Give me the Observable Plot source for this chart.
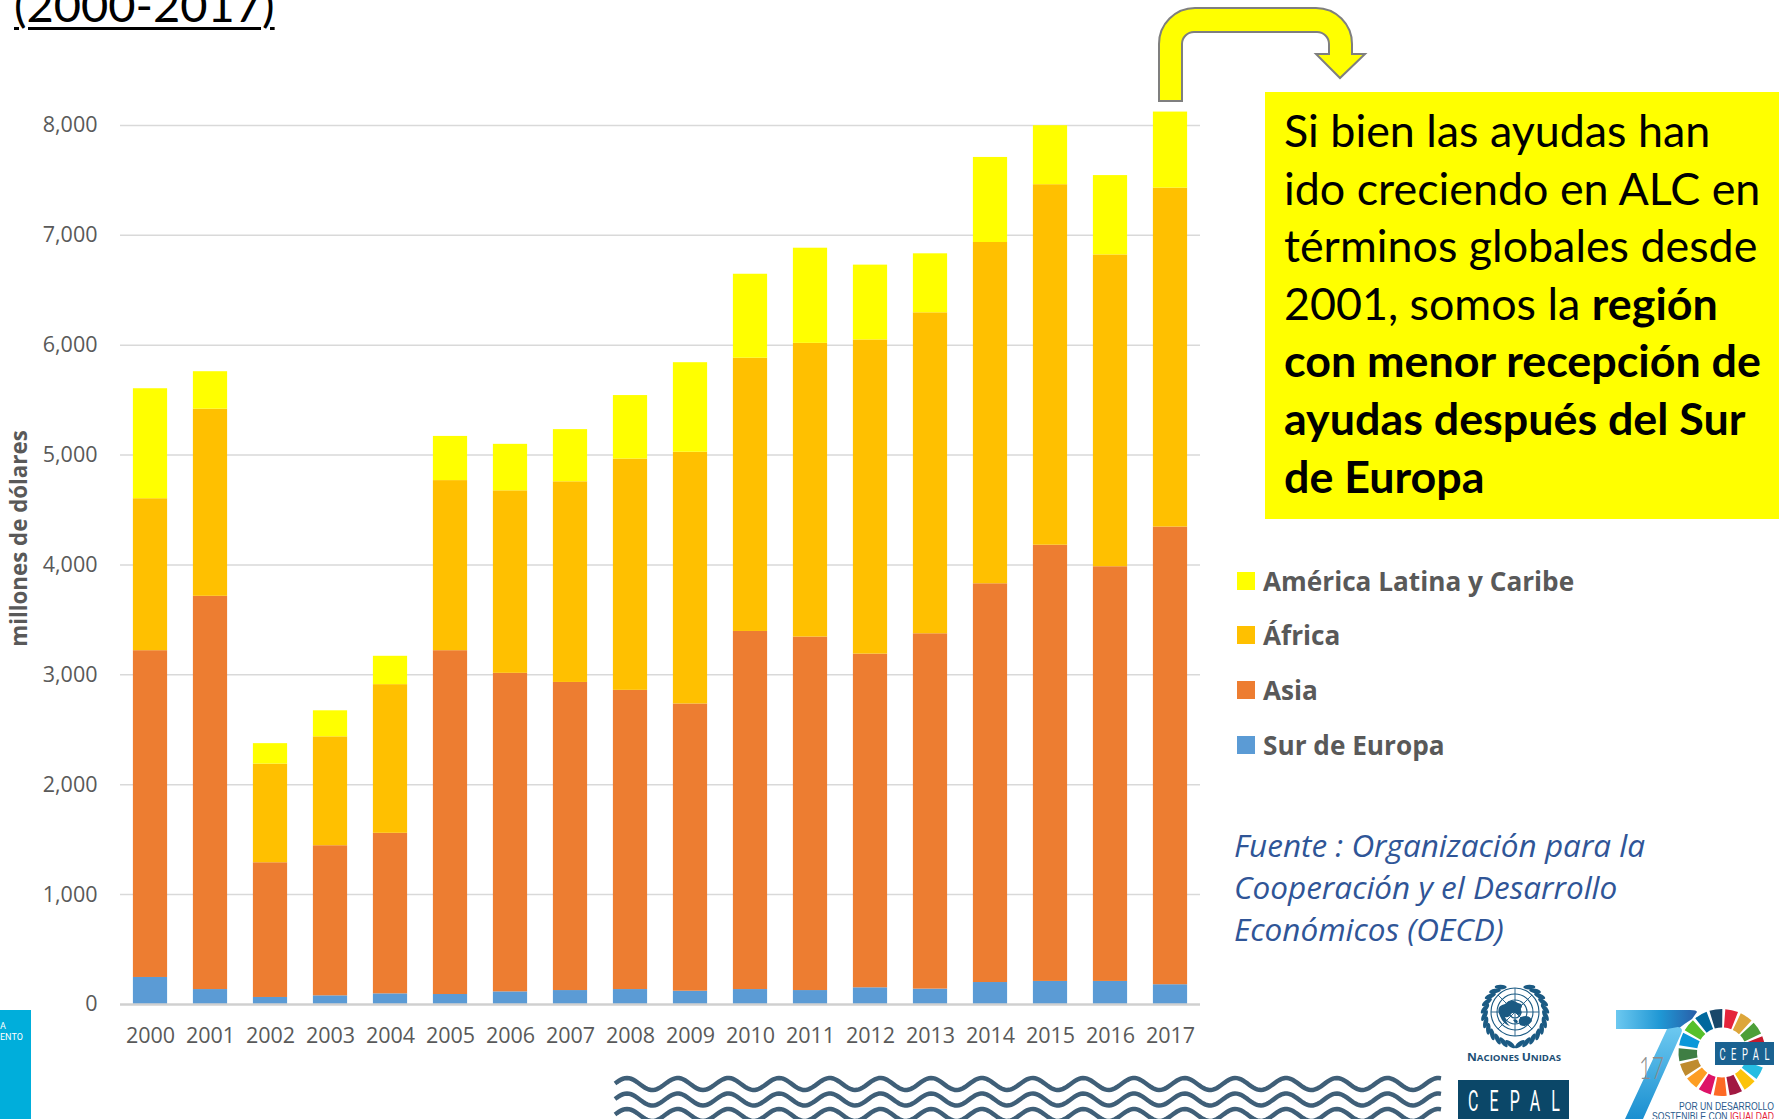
<!DOCTYPE html>
<html lang="es">
<head>
<meta charset="utf-8">
<script src="https://cdn.jsdelivr.net/npm/d3@7"></script>
<script src="https://cdn.jsdelivr.net/npm/@observablehq/plot@0.6"></script>
<style>
html,body{margin:0;padding:0;background:#fff;overflow:hidden}
#page{position:relative;width:1779px;height:1119px;overflow:hidden;font-family:Lato,sans-serif}
#page svg{position:absolute;left:0;top:0}
.abs{position:absolute;white-space:nowrap}
#title{left:14px;top:-28px;font-size:47px;line-height:64px;color:#000;text-decoration:underline;text-decoration-thickness:3px;text-underline-offset:5px}
#callout{left:1265px;top:92px;width:514px;height:427px;background:#ff0;color:#000;box-sizing:border-box;padding:10px 0 0 19px;font-size:44.8px;line-height:57.6px}
#legend{left:1237px;top:0;width:500px;height:800px;color:#595959;font-weight:700;font-size:26.2px;font-family:"Open Sans",sans-serif}
.lg{position:absolute;left:0;height:30px;line-height:30px}
.lg i{position:absolute;left:0;top:6px;width:18px;height:18px}
.lg span{position:absolute;left:26px;top:0}
#source{left:1234px;top:824px;color:#2f5597;font-family:"Open Sans",sans-serif;font-style:italic;font-size:31.5px;line-height:42px}
</style>
</head>
<body>
<div id="page"></div>
<script>
const years = [2000,2001,2002,2003,2004,2005,2006,2007,2008,2009,2010,2011,2012,2013,2014,2015,2016,2017];
const seriesNames = ["Sur de Europa","Asia","África","América Latina y Caribe"];
const seriesColors = ["#5b9bd5","#ed7d31","#ffc000","#ffff00"];
const surEuropa = [246,136,64,79,97,91,115,127,136,121,136,127,152,140,200,210,210,180];
const asia = [2974,3579,1226,1366,1461,3129,2899,2804,2723,2614,3259,3217,3037,3234,3629,3970,3774,4165];
const africa = [1383,1703,898,991,1353,1548,1661,1826,2105,2291,2487,2673,2859,2921,3106,3281,2838,3085];
const alc = [1001,341,186,237,258,402,423,475,578,815,764,866,681,537,774,537,722,692];
const yTicks = [0,1000,2000,3000,4000,5000,6000,7000,8000];
const legendOrder = ["América Latina y Caribe","África","Asia","Sur de Europa"];
const calloutLines = [
  ["Si bien las ayudas han",""],
  ["ido creciendo en ALC en",""],
  ["términos globales desde",""],
  ["2001, somos la ","región"],
  ["","con menor recepción de"],
  ["","ayudas después del Sur"],
  ["","de Europa"]
];
const sourceLines = ["Fuente : Organización para la","Cooperación y el Desarrollo","Económicos (OECD)"];
const sdgColors = ["#e5243b","#dda63a","#4c9f38","#c5192d","#ff3a21","#26bde2","#fcc30b","#a21942","#fd6925","#dd1367","#fd9d24","#bf8b2e","#3f7e44","#0a97d9","#56c02b","#00689d","#19486a"];

const page = document.getElementById("page");
const rows = [];
const valuesBySeries = [surEuropa, asia, africa, alc];
seriesNames.forEach((s,i)=>years.forEach((y,j)=>rows.push({year:y,series:s,value:valuesBySeries[i][j]})));

const labelFont = "'Open Sans', sans-serif";
const chart = Plot.plot({
  width:1779, height:1119,
  marginLeft:120, marginRight:579, marginTop:103, marginBottom:115,
  style:{background:"transparent",fontFamily:labelFont,overflow:"visible"},
  x:{domain:years,paddingInner:0.43,paddingOuter:0.215,align:0.5,round:false,label:null},
  y:{domain:[0,8200],label:null},
  color:{domain:seriesNames,range:seriesColors},
  marks:[
    Plot.ruleY(yTicks.filter(d=>d>0),{stroke:"#d9d9d9",strokeWidth:1.5}),
    Plot.barY(rows,{x:"year",y:"value",fill:"series",z:"series",order:seriesNames}),
    Plot.ruleY([0],{stroke:"#d0d0d0",strokeWidth:2.5}),
    Plot.axisY({ticks:yTicks,tickSize:0,tickPadding:23,tickFormat:d3.format(","),fontSize:21.5,fill:"#595959",label:null}),
    Plot.axisX({tickSize:0,tickPadding:23,tickFormat:d=>String(d),fontSize:21.5,fill:"#595959",label:null}),
    Plot.text(["millones de dólares"],{frameAnchor:"left",dx:-101,rotate:-90,textAnchor:"middle",y:()=>4241,fontSize:22.3,fontWeight:700,fill:"#595959"})
  ]
});
page.appendChild(chart);

function el(tag,cls,id,html){const e=document.createElement(tag);if(cls)e.className=cls;if(id)e.id=id;if(html!=null)e.innerHTML=html;page.appendChild(e);return e;}
el("div","abs","title","(2000-2017)");
el("div","abs","callout",calloutLines.map(([a,b])=>a+(b?`<b>${b}</b>`:"")).join("<br>"));
const leg = el("div","abs","legend");
const legendY = [566,620,675,730];
legendOrder.forEach((n,i)=>{
  const d=document.createElement("div");d.className="lg";d.style.top=legendY[i]+"px";
  d.innerHTML=`<i style="background:${seriesColors[seriesNames.indexOf(n)]}"></i><span>${n}</span>`;
  leg.appendChild(d);
});
el("div","abs","source",sourceLines.join("<br>"));

/* decorations: bent arrow, logos */
const ov=d3.select(page).append("svg").attr("width",1779).attr("height",1119).style("pointer-events","none");
const defs=ov.append("defs");
const g7=defs.append("linearGradient").attr("id","g7").attr("gradientUnits","userSpaceOnUse").attr("x1",1616).attr("x2",1697).attr("y1",0).attr("y2",0);
g7.append("stop").attr("offset","0").attr("stop-color","#6cc8f0");
g7.append("stop").attr("offset","0.55").attr("stop-color","#1f97d4");
g7.append("stop").attr("offset","1").attr("stop-color","#2a5ea8");
const g7b=defs.append("linearGradient").attr("id","g7b").attr("gradientUnits","userSpaceOnUse").attr("x1",0).attr("x2",0).attr("y1",1028).attr("y2",1119);
g7b.append("stop").attr("offset","0").attr("stop-color","#6cc8f0");
g7b.append("stop").attr("offset","1").attr("stop-color","#1a8fd0");

// arrow
ov.append("path").attr("d","M1159 101 V44 A36 36 0 0 1 1195 8 H1316 A36 36 0 0 1 1352 44 V54 H1365 L1340 78 L1316 54 H1329 V44 A12 12 0 0 0 1317 32 H1194 A12 12 0 0 0 1182 44 V101 Z")
  .attr("fill","#ff0").attr("stroke","#7f7f7f").attr("stroke-width",2);

// left blue block
ov.append("rect").attr("x",0).attr("y",1010).attr("width",31).attr("height",109).attr("fill","#00aedb");
ov.append("text").attr("x",0).attr("y",1029).attr("font-size",9).attr("fill","#fff").attr("font-family","Roboto").text("A");
ov.append("text").attr("x",0).attr("y",1040).attr("font-size",9).attr("fill","#fff").attr("font-family","Roboto").text("ENTO");

// waves
[1084,1099.5,1115].forEach(cy=>{
  const pts=d3.range(615,1442,2).map(x=>[x,cy-6*Math.sin((x-627)/50.7*2*Math.PI+Math.PI/2)]);
  ov.append("path").attr("d",d3.line()(pts)).attr("fill","none").attr("stroke","#3f5f78").attr("stroke-width",4.5);
});

// UN emblem
const unC="#1b5a83";
const un=ov.append("g").attr("transform","translate(1515,1012)").attr("fill","none").attr("stroke",unC);
[24,18,12,6].forEach(r=>un.append("circle").attr("r",r).attr("stroke-width",1.1));
d3.range(8).forEach(i=>{const a=i*Math.PI/4;un.append("line").attr("x2",24*Math.cos(a)).attr("y2",24*Math.sin(a)).attr("stroke-width",0.9);});
un.append("path").attr("d","M-15 4 Q-20 -6 -10 -8 Q-4 -14 3 -9 Q10 -8 5 -2 Q9 2 3 3 Q-1 -1 -4 2 Q-6 6 -10 5 Q-9 11 -5 14 Q-12 12 -15 4 M6 5 Q15 2 17 9 Q12 16 5 13 Q2 8 6 5 M-2 8 Q2 6 3 10 Q1 13 -2 8").attr("fill",unC).attr("stroke","none");
[-1,1].forEach(s=>{
  d3.range(-62,84,13).forEach(deg=>{
    const a=deg*Math.PI/180, r=30.5;
    const cx=s*r*Math.cos(a), cy=r*Math.sin(a)+2;
    un.append("ellipse").attr("cx",cx).attr("cy",cy).attr("rx",6).attr("ry",2.3)
      .attr("transform",`rotate(${s*(deg+60)} ${cx} ${cy})`).attr("fill",unC).attr("stroke","none");
  });
});
const unT=ov.append("text").attr("x",1514).attr("y",1061).attr("text-anchor","middle").attr("textLength",94).attr("lengthAdjust","spacingAndGlyphs").attr("font-size",8).attr("font-weight",700).attr("fill","#1d4f75").attr("font-family","'Open Sans'");
["N|ACIONES ","U|NIDAS"].forEach(w=>{const [a,b]=w.split("|");unT.append("tspan").attr("font-size",10).text(a);unT.append("tspan").attr("font-size",8).text(b);});

// CEPAL box
ov.append("rect").attr("x",1458).attr("y",1080).attr("width",111).attr("height",39).attr("fill","#0b4768");
ov.append("g").attr("transform","translate(1514,1111) scale(0.55,1)").append("text").attr("text-anchor","middle").attr("font-size",29).attr("textLength",167).attr("lengthAdjust","spacing").attr("fill","#fff").attr("font-family","Roboto").text("CEPAL");

// 70 logo
ov.append("path").attr("d","M1667 1029 H1678 Q1684 1024 1692 1019 L1697 1012 Q1697 1010 1690 1010 H1616 V1029 Z").attr("fill","url(#g7)");
ov.append("path").attr("d","M1667 1029 L1625 1119 H1643 L1681 1034 Q1684 1028 1678 1027 Z").attr("fill","url(#g7b)");
const arc=d3.arc().innerRadius(25).outerRadius(43.5);
const ring=ov.append("g").attr("transform","translate(1722,1052.5)");
sdgColors.forEach((c,i)=>{const mid=(13+i*360/17)*Math.PI/180;const hw=8.6*Math.PI/180;ring.append("path").attr("d",arc({startAngle:mid-hw,endAngle:mid+hw})).attr("fill",c);});
ov.append("rect").attr("x",1715).attr("y",1042).attr("width",59).attr("height",23).attr("fill","#1a6291");
ov.append("g").attr("transform","translate(1744.5,1059.5) scale(0.55,1)").append("text").attr("text-anchor","middle").attr("font-size",17).attr("textLength",91).attr("lengthAdjust","spacing").attr("fill","#fff").attr("font-family","Roboto").text("CEPAL");
ov.append("text").attr("x",1651.5).attr("y",1079).attr("text-anchor","middle").attr("font-size",32).attr("textLength",25).attr("lengthAdjust","spacingAndGlyphs").attr("fill","#8c8c8c").attr("font-family","Lato").attr("font-weight",300).text("17");
ov.append("text").attr("x",1774).attr("y",1110).attr("text-anchor","end").attr("font-size",11.5).attr("textLength",95).attr("lengthAdjust","spacingAndGlyphs").attr("fill","#2a5a8c").attr("font-family","Liberation Sans").text("POR UN DESARROLLO");
const t2=ov.append("text").attr("x",1774).attr("y",1120).attr("text-anchor","end").attr("font-size",11.5).attr("textLength",122).attr("lengthAdjust","spacingAndGlyphs").attr("fill","#2a5a8c").attr("font-family","Liberation Sans");
t2.append("tspan").text("SOSTENIBLE CON ");
t2.append("tspan").attr("fill","#e5243b").text("IGUALDAD");
</script>
</body>
</html>
